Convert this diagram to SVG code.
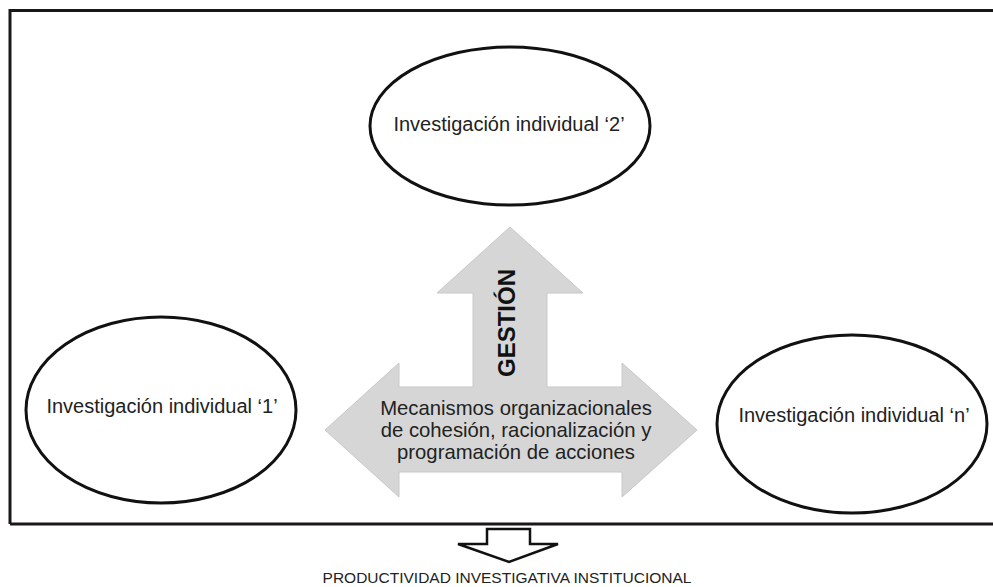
<svg xmlns="http://www.w3.org/2000/svg" width="993" height="587" viewBox="0 0 993 587">
<style>
.ell{fill:#fff;stroke:#111;stroke-width:3}
.lbl{font-family:"Liberation Sans",Arial,sans-serif;font-size:20px;fill:#222;text-anchor:middle}
.mid{font-family:"Liberation Sans",Arial,sans-serif;font-size:20.3px;fill:#222;text-anchor:middle}
.big{font-family:"Liberation Sans",Arial,sans-serif;font-size:24px;font-weight:bold;fill:#111;text-anchor:middle}
.foot{font-family:"Liberation Sans",Arial,sans-serif;font-size:15.5px;fill:#222;text-anchor:middle}
</style>
<rect width="993" height="587" fill="#fff"/>
<path d="M10,524 L10,10.5 L1000,10.5 M10,524 L1000,524" fill="none" stroke="#1a1718" stroke-width="3"/>
<g id="connectors">
<path id="gestion-arrow" d="M510,227 L583,293 L547,293 L547,387 L622,387 L622,363 L697,430 L622,497 L622,472 L399,472 L399,497 L325,430 L399,363 L399,387 L473,387 L473,293 L437,293 Z" fill="#d6d6d6" stroke="#c8c8c8" stroke-width="1"/>
<path id="output-arrow" d="M487,529 L530,529 L530,544 L558,544 L509,562 L458,544 L487,544 Z" fill="#fff" stroke="#111" stroke-width="2.5" stroke-linejoin="miter"/>
</g>
<g id="node-2">
<ellipse class="ell" cx="510" cy="126" rx="140" ry="79"/>
<text class="lbl" x="509" y="131">Investigación individual ‘2’</text>
</g>
<g id="node-1">
<ellipse class="ell" cx="161" cy="410" rx="135" ry="93"/>
<text class="lbl" x="162" y="413">Investigación individual ‘1’</text>
</g>
<g id="node-n">
<ellipse class="ell" cx="852" cy="424" rx="135" ry="89"/>
<text class="lbl" x="854" y="422">Investigación individual ‘n’</text>
</g>
<g id="gestion">
<text class="big" transform="translate(515,323) rotate(-90)">GESTIÓN</text>
<text class="mid" x="516" y="415">Mecanismos organizacionales</text>
<text class="mid" x="516" y="437">de cohesión, racionalización y</text>
<text class="mid" x="516" y="459">programación de acciones</text>
</g>
<g id="result">
<text class="foot" x="507" y="583">PRODUCTIVIDAD INVESTIGATIVA INSTITUCIONAL</text>
</g>
</svg>
